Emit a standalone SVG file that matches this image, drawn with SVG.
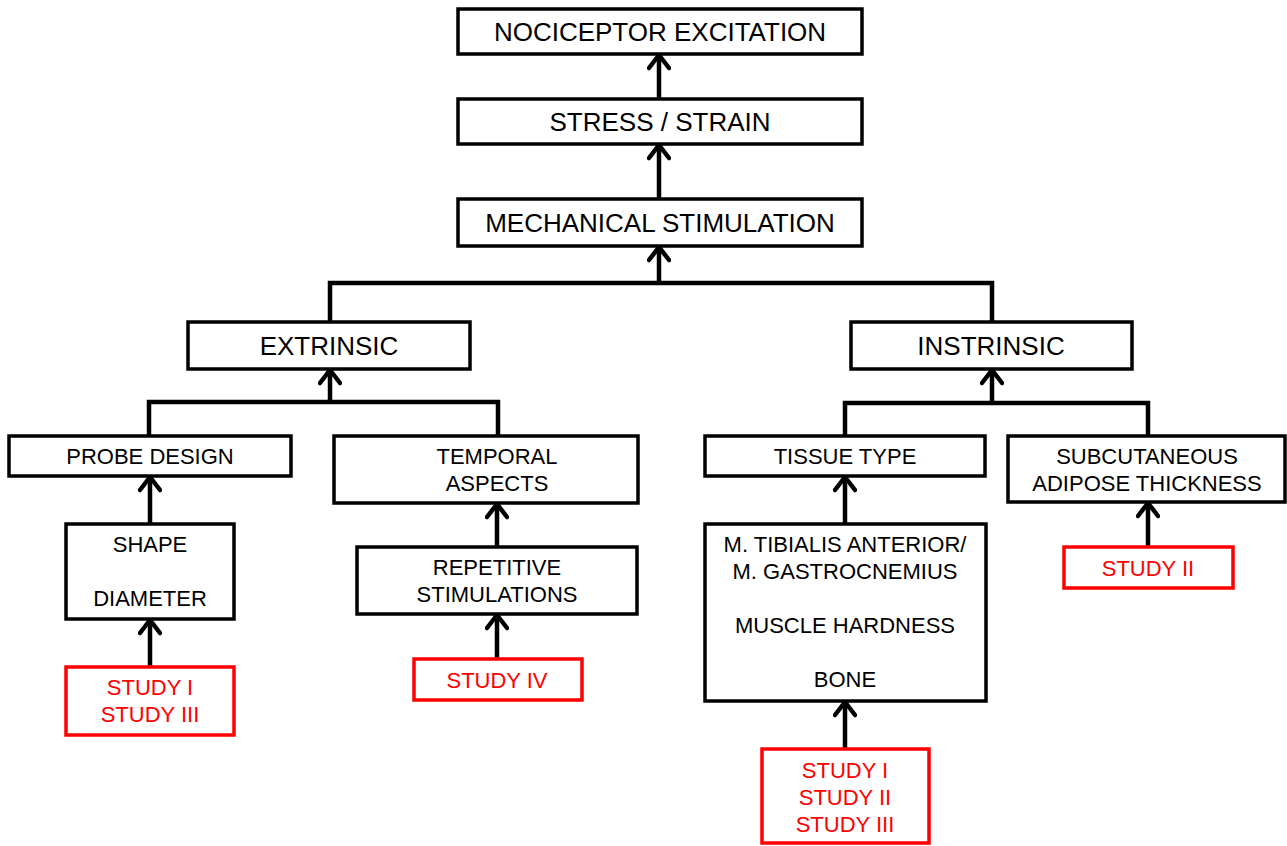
<svg xmlns="http://www.w3.org/2000/svg" width="1287" height="846" viewBox="0 0 1287 846">
<defs>
<marker id="ah" viewBox="0 0 24 24" refX="18" refY="12" markerWidth="24" markerHeight="24" markerUnits="userSpaceOnUse" orient="auto">
<path d="M5,2 L18,12 L5,22" fill="none" stroke="#000" stroke-width="4.5" stroke-linecap="round" stroke-linejoin="round"/>
</marker>
</defs>
<style>
.b{fill:#fff;stroke:#000;stroke-width:3.5}
.r{fill:#fff;stroke:#f00;stroke-width:3.5}
.t{font-family:"Liberation Sans",Arial,sans-serif;font-size:22px;text-anchor:middle;fill:#000}
.L{font-size:26px}
.rt{fill:#f00}
.c{fill:none;stroke:#000;stroke-width:4.5}
.a{marker-end:url(#ah)}
</style>
<rect width="1287" height="846" fill="#fff"/>
<g id="connectors">
<path class="c a" d="M659,99 V55"/>
<path class="c a" d="M659,199 V145"/>
<path class="c" d="M330,322 V283 H992 V322"/>
<path class="c a" d="M659,283 V247"/>
<path class="c" d="M149,436 V402 H498 V436"/>
<path class="c a" d="M330,402 V370"/>
<path class="c" d="M845,436 V403 H1148 V436"/>
<path class="c a" d="M992,403 V370"/>
<path class="c a" d="M150,524 V477"/>
<path class="c a" d="M150,667 V620"/>
<path class="c a" d="M497,547 V504"/>
<path class="c a" d="M497,659 V615"/>
<path class="c a" d="M845,524 V477"/>
<path class="c a" d="M845,748 V702"/>
<path class="c a" d="M1148,547 V503"/>
</g>
<g id="n-nociceptor"><rect class="b" x="458" y="9" width="404" height="45"/><text class="t L" x="660" y="41">NOCICEPTOR EXCITATION</text></g>
<g id="n-stress"><rect class="b" x="458" y="99" width="404" height="45"/><text class="t L" x="660" y="131">STRESS / STRAIN</text></g>
<g id="n-mech"><rect class="b" x="458" y="199" width="404" height="47"/><text class="t L" x="660" y="232">MECHANICAL STIMULATION</text></g>
<g id="n-extrinsic"><rect class="b" x="188" y="322" width="282" height="47"/><text class="t L" x="329" y="355">EXTRINSIC</text></g>
<g id="n-instrinsic"><rect class="b" x="851" y="322" width="281" height="47"/><text class="t L" x="991" y="355">INSTRINSIC</text></g>
<g id="n-probe"><rect class="b" x="9" y="436" width="282" height="40"/><text class="t" x="150" y="464">PROBE DESIGN</text></g>
<g id="n-temporal"><rect class="b" x="334" y="436" width="304" height="67"/><text class="t" x="497" y="464">TEMPORAL</text><text class="t" x="497" y="491">ASPECTS</text></g>
<g id="n-tissue"><rect class="b" x="705" y="436" width="280" height="40"/><text class="t" x="845" y="464">TISSUE TYPE</text></g>
<g id="n-subcut"><rect class="b" x="1008" y="436" width="277" height="66"/><text class="t" x="1147" y="464">SUBCUTANEOUS</text><text class="t" x="1147" y="491">ADIPOSE THICKNESS</text></g>
<g id="n-shape"><rect class="b" x="66" y="524" width="168" height="95"/><text class="t" x="150" y="552">SHAPE</text><text class="t" x="150" y="606">DIAMETER</text></g>
<g id="n-repetitive"><rect class="b" x="357" y="547" width="280" height="67"/><text class="t" x="497" y="575">REPETITIVE</text><text class="t" x="497" y="602">STIMULATIONS</text></g>
<g id="n-muscle"><rect class="b" x="705" y="524" width="281" height="177"/><text class="t" x="845" y="552">M. TIBIALIS ANTERIOR/</text><text class="t" x="845" y="579">M. GASTROCNEMIUS</text><text class="t" x="845" y="633">MUSCLE HARDNESS</text><text class="t" x="845" y="687">BONE</text></g>
<g id="n-study13"><rect class="r" x="66" y="667" width="168" height="68"/><text class="t rt" x="150" y="695">STUDY I</text><text class="t rt" x="150" y="722">STUDY III</text></g>
<g id="n-study4"><rect class="r" x="414" y="659" width="168" height="41"/><text class="t rt" x="497" y="688">STUDY IV</text></g>
<g id="n-study123"><rect class="r" x="762" y="749" width="167" height="94"/><text class="t rt" x="845" y="778">STUDY I</text><text class="t rt" x="845" y="805">STUDY II</text><text class="t rt" x="845" y="832">STUDY III</text></g>
<g id="n-study2"><rect class="r" x="1064" y="547" width="169" height="41"/><text class="t rt" x="1148" y="576">STUDY II</text></g>
</svg>
